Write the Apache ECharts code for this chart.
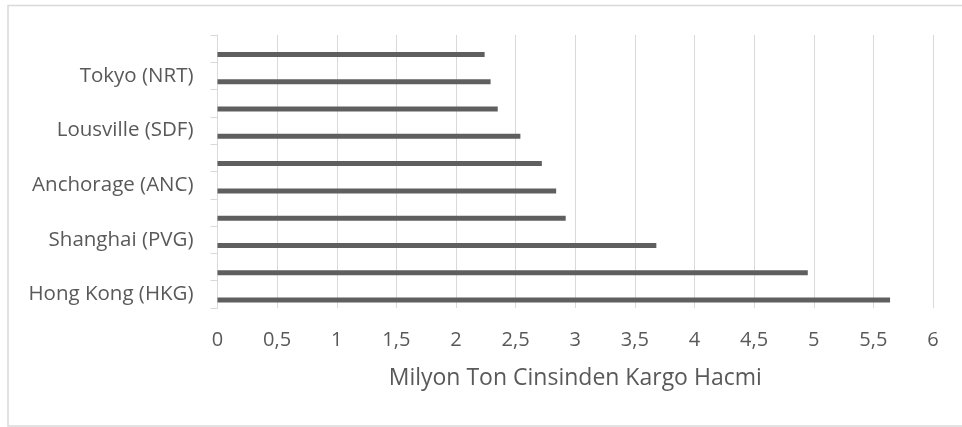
<!DOCTYPE html>
<html>
<head>
<meta charset="utf-8">
<script src="https://cdn.jsdelivr.net/npm/echarts@6/dist/echarts.min.js"></script>
<style>
html,body{margin:0;padding:0;background:#fff;}
#c{width:962px;height:427px;}
</style>
</head>
<body>
<div id="c"></div>
<script>
// Categories from bottom to top
const categories = [
  'Hong Kong (HKG)', 'Memphis (MEM)', 'Shanghai (PVG)', 'Incheon (ICN)',
  'Anchorage (ANC)', 'Dubai (DXB)', 'Lousville (SDF)', 'Taipei (TPE)',
  'Tokyo (NRT)', 'Los Angeles (LAX)'
];
const cargoVolume = [5.64, 4.95, 3.68, 2.92, 2.84, 2.72, 2.54, 2.35, 2.29, 2.24];
const emptySeries = [null, null, null, null, null, null, null, null, null, null];
const xTicks = { min: 0, max: 6, interval: 0.5 };
const axisTitle = 'Milyon Ton Cinsinden Kargo Hacmi';

const chart = echarts.init(document.getElementById('c'), null, { renderer: 'canvas' });
const FONT = '"Open Sans", sans-serif';
const TXT = '#595959';
const GRID = '#d9d9d9';

chart.setOption({
  animation: false,
  backgroundColor: '#ffffff',
  graphic: [{
    type: 'rect',
    shape: { x: 8, y: 5.5, width: 970, height: 420.5 },
    style: { fill: 'none', stroke: GRID, lineWidth: 1.5 },
    silent: true
  }],
  grid: { left: 217.5, right: 29, top: 35, bottom: 119, containLabel: false },
  xAxis: {
    type: 'value',
    min: xTicks.min, max: xTicks.max, interval: xTicks.interval,
    axisLine: { show: false },
    axisTick: { show: false },
    splitLine: { show: true, lineStyle: { color: GRID, width: 1 } },
    axisLabel: {
      color: TXT, fontFamily: FONT, fontSize: 20, margin: 22,
      formatter: v => String(v).replace('.', ',')
    },
    name: axisTitle,
    nameLocation: 'middle',
    nameGap: 59,
    nameTextStyle: { color: TXT, fontFamily: FONT, fontSize: 23 }
  },
  yAxis: {
    type: 'category',
    data: categories,
    axisLine: { show: true, lineStyle: { color: GRID, width: 1 } },
    axisTick: { show: true, length: 7, interval: 0, lineStyle: { color: GRID } },
    axisLabel: { color: TXT, fontFamily: FONT, fontSize: 20.5, margin: 24, interval: 1 },
    splitLine: { show: false }
  },
  series: [
    {
      type: 'bar', data: emptySeries, barWidth: 5, barGap: '130%',
      itemStyle: { color: '#5f5f5f' }
    },
    {
      type: 'bar', data: cargoVolume, barWidth: 5, barGap: '130%',
      itemStyle: { color: '#5f5f5f' }
    }
  ]
});
</script>
</body>
</html>
